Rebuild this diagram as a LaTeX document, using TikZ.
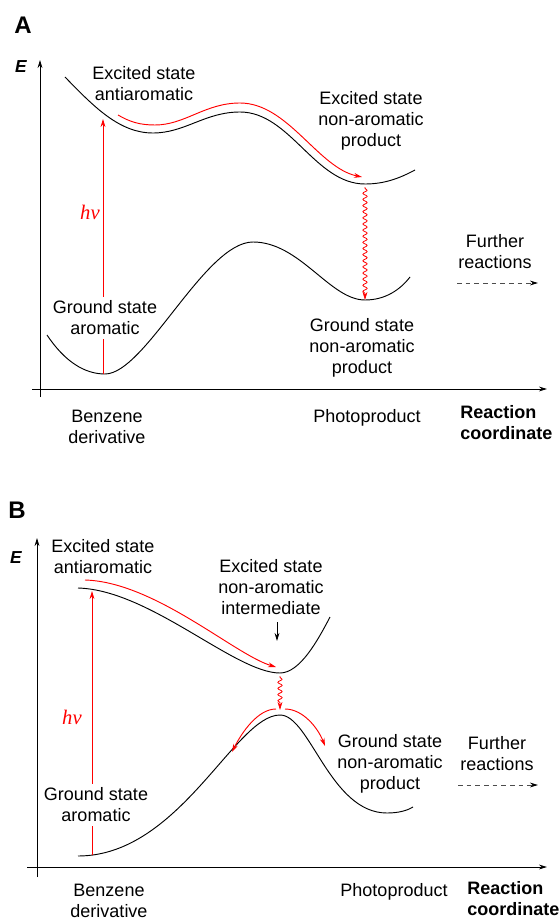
\documentclass[tikz,border=0pt]{standalone}
\usepackage{fontspec}
\setmainfont{Liberation Sans}
\newfontfamily\hvfont{Liberation Serif}
\usetikzlibrary{arrows.meta,decorations.pathmorphing}
\begin{document}
\begin{tikzpicture}[x=0.75pt,y=-0.75pt,
  txt/.style={align=center, inner sep=3pt, font=\fontsize{13.5}{15.75}\selectfont},
  txtb/.style={align=left, inner sep=3pt, font=\fontsize{13.5}{15.75}\selectfont\bfseries},
  panel/.style={inner sep=0pt, font=\fontsize{18}{21}\selectfont\bfseries},
  elabel/.style={inner sep=0pt, font=\fontsize{13}{15}\selectfont\bfseries\itshape},
  hvlab/.style={inner sep=0pt, text=red, font=\fontsize{15.5}{18}\selectfont\hvfont\itshape},
  tip/.style={-{Stealth[length=6pt,width=3.6pt]}},
  axis/.style={line width=0.7pt, tip},
  curve/.style={line width=0.7pt},
  redline/.style={red, line width=0.7pt},
  wavy/.style={red, line width=0.6pt, tip, decorate,
    decoration={snake, amplitude=1.6pt, segment length=4.6pt, pre length=1pt, post length=4pt}},
  dasharrow/.style={line width=0.7pt, black!70, dash pattern=on 3.5pt off 3pt,
    -{Stealth[length=6pt,width=3.6pt,black]}}
]
\useasboundingbox (0,0) rectangle (558,920);

% ================= Panel A =================
\node[panel] (labA) at (23,25) {A};
\node[elabel] (EA) at (21,67) {E};
\coordinate (yA0) at (40,397); \coordinate (yA1) at (40,60);
\coordinate (xA0) at (32,389); \coordinate (xA1) at (547,389);
\draw[axis] (yA0) -- (yA1);
\draw[axis] (xA0) -- (xA1);

% excited state curve
\draw[curve] (65,77) .. controls (95,108) and (120,133) .. (153,133)
  .. controls (185,133) and (205,112) .. (240,112)
  .. controls (290,112) and (315,184) .. (365,184)
  .. controls (385,184) and (400,178) .. (415,170);
% red path along excited curve
\draw[redline, tip] (118,115) .. controls (130,122) and (140,125) .. (155,125)
  .. controls (185,125) and (205,103) .. (240,103)
  .. controls (288,103) and (318,168) .. (362,177);
% ground state curve
\draw[curve] (47,335) .. controls (65,362) and (85,374) .. (105,374)
  .. controls (145,374) and (205,242) .. (253,242)
  .. controls (300,242) and (330,300) .. (365,300)
  .. controls (385,300) and (400,290) .. (410,277);

% texts
\node[txt] (exA) at (144,84) {Excited state\\antiaromatic};
\node[txt] (exnA) at (371,121) {Excited state\\non-aromatic\\product};
\node[txt] (frA) at (495,252) {Further\\reactions};
\node[txt] (gsA) at (105,318) {Ground state\\aromatic};
\node[txt] (gsnA) at (362,348) {Ground state\\non-aromatic\\product};
\node[txt] (bzA) at (107,427) {Benzene\\derivative};
\node[txt] (ppA) at (367,418) {Photoproduct};
\node[txtb, anchor=west] (rcA) at (456,423) {Reaction\\coordinate};
\node[hvlab] (hvA) at (90,212) {hν};

% hv excitation
\coordinate (gminA) at (103,374);
\coordinate (eptA) at (103,119);
\draw[redline] (gminA) -- (gsA.south -| gminA);
\draw[redline, tip] (gsA.north -| gminA) -- (eptA);
% wavy decay
\coordinate (exminA) at (365,187);
\coordinate (gpA) at (365,300);
\draw[wavy] (exminA) -- (gpA);
% further reactions
\coordinate (dA0) at (457,283); \coordinate (dA1) at (538,283);
\draw[dasharrow] (dA0) -- (dA1);

% ================= Panel B =================
\node[panel] (labB) at (17,510) {B};
\node[elabel] (EB) at (16,558) {E};
\coordinate (yB0) at (37,877); \coordinate (yB1) at (37,538);
\coordinate (xB0) at (27,867); \coordinate (xB1) at (547,867);
\draw[axis] (yB0) -- (yB1);
\draw[axis] (xB0) -- (xB1);

% excited state curve
\draw[curve] (78,588) .. controls (150,590) and (235,673) .. (280,673)
  .. controls (300,673) and (318,640) .. (330,617);
\draw[redline, tip] (85,580) .. controls (155,582) and (235,655) .. (276,667);
% ground state curve
\draw[curve] (78,856) .. controls (180,856) and (235,715) .. (280,715)
  .. controls (310,715) and (330,813) .. (387,813)
  .. controls (400,813) and (408,810) .. (413,807);
\draw[redline, tip] (276,709) .. controls (258,709) and (242,732) .. (232,752);
\draw[redline, tip] (285,709) .. controls (303,709) and (318,728) .. (325,746);

% texts
\node[txt] (exB) at (103,557) {Excited state\\antiaromatic};
\node[txt] (exiB) at (271,587) {Excited state\\non-aromatic\\intermediate};
\node[txt] (gsB) at (96,805) {Ground state\\aromatic};
\node[txt] (gsnB) at (390,764) {Ground state\\non-aromatic\\product};
\node[txt] (frB) at (497,754) {Further\\reactions};
\node[txt] (bzB) at (109,901) {Benzene\\derivative};
\node[txt] (ppB) at (394,892) {Photoproduct};
\node[txtb, anchor=west] (rcB) at (463,899) {Reaction\\coordinate};
\node[hvlab] (hvB) at (72,717) {hν};

% hv excitation
\coordinate (gminB) at (92,855);
\coordinate (eptB) at (92,591);
\draw[redline] (gminB) -- (gsB.south -| gminB);
\draw[redline, tip] (gsB.north -| gminB) -- (eptB);
% pointer to intermediate
\coordinate (pB0) at (277,622); \coordinate (pB1) at (277,641);
\draw[curve, tip] (pB0) -- (pB1);
% wavy decay
\coordinate (exminB) at (280,676);
\coordinate (gpB) at (280,710);
\draw[wavy] (exminB) -- (gpB);
% further reactions
\coordinate (dB0) at (458,785); \coordinate (dB1) at (538,785);
\draw[dasharrow] (dB0) -- (dB1);
\end{tikzpicture}
\end{document}
